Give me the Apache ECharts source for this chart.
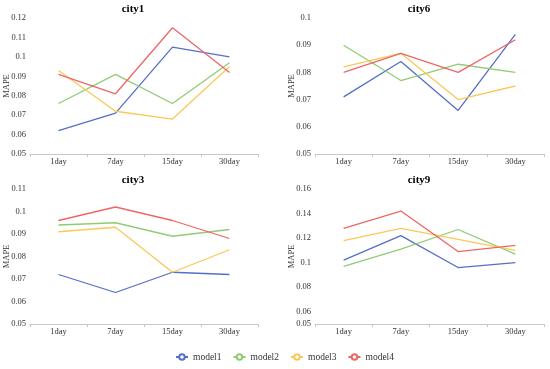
<!DOCTYPE html>
<html><head><meta charset="utf-8">
<script src="https://cdn.jsdelivr.net/npm/echarts@6/dist/echarts.min.js"></script>
<style>html,body{margin:0;padding:0;background:#fff}#c{width:550px;height:369px}</style>
</head><body><div id="c"></div>
<script>
const categories = ['1day', '7day', '15day', '30day'];
const models = ['model1', 'model2', 'model3', 'model4'];
const cityNames = ['city1', 'city6', 'city3', 'city9'];
// values per model (model1..model4)
const city1 = [
  [0.062, 0.071, 0.105, 0.100],
  [0.076, 0.091, 0.076, 0.097],
  [0.093, 0.072, 0.068, 0.095],
  [0.091, 0.081, 0.115, 0.092]
];
const city6 = [
  [0.071, 0.084, 0.066, 0.094],
  [0.090, 0.077, 0.083, 0.080],
  [0.082, 0.087, 0.070, 0.075],
  [0.080, 0.087, 0.080, 0.092]
];
const city3 = [
  [0.072, 0.064, 0.073, 0.072],
  [0.094, 0.095, 0.089, 0.092],
  [0.091, 0.093, 0.073, 0.083],
  [0.096, 0.102, 0.096, 0.088]
];
const city9 = [
  [0.102, 0.122, 0.096, 0.100],
  [0.097, 0.111, 0.127, 0.107],
  [0.118, 0.128, 0.119, 0.110],
  [0.128, 0.142, 0.109, 0.114]
];
const yMins = [0.05, 0.05, 0.05, 0.05];
const yMaxs = [0.12, 0.10, 0.11, 0.16];
const yIntervals = [0.01, 0.01, 0.01, 0.02];
const city9Ticks = [0.05, 0.06, 0.08, 0.10, 0.12, 0.14, 0.16];

const colors = ['#5470c6', '#91cc75', '#fac858', '#ee6666'];
const cityData = [city1, city6, city3, city9];
const font = 'Liberation Serif';
const grids = [
  {left: 30, width: 228, top: 18, height: 136},
  {left: 315, width: 229, top: 18, height: 136},
  {left: 30, width: 228, top: 189, height: 135},
  {left: 315, width: 229, top: 189, height: 135}
].map(g => Object.assign(g, {containLabel: false, outerBoundsMode: 'none'}));
const titlePos = [[128, -1], [414, -1], [128, 170], [414, 170]];

const xAxis = [], yAxis = [], series = [], title = [];
for (let i = 0; i < 4; i++) {
  title.push({text: cityNames[i], left: titlePos[i][0], top: titlePos[i][1], textAlign: 'center',
    textStyle: {fontFamily: font, fontWeight: 'bold', fontSize: 11, color: '#000'}});
  xAxis.push({type: 'category', gridIndex: i, data: categories, boundaryGap: true,
    axisLine: {lineStyle: {color: '#c8c8c8'}},
    axisTick: {show: true, length: 3, lineStyle: {color: '#c8c8c8'}},
    axisLabel: {fontFamily: font, fontSize: 8.5, color: '#333', margin: 3}});
  const ya = {type: 'value', gridIndex: i, min: yMins[i], max: yMaxs[i], interval: yIntervals[i],
    name: 'MAPE', nameLocation: 'middle', nameGap: 19, nameMoveOverlap: false,
    nameTextStyle: {fontFamily: font, fontSize: 8.5, color: '#333'},
    axisLine: {show: false}, axisTick: {show: false}, splitLine: {show: false},
    axisLabel: {fontFamily: font, fontSize: 8.5, color: '#333', margin: 4}};
  if (i === 3) { ya.axisLabel.customValues = city9Ticks; }
  yAxis.push(ya);
  for (let m = 0; m < 4; m++) {
    series.push({type: 'line', name: models[m], xAxisIndex: i, yAxisIndex: i,
      data: cityData[i][m], showSymbol: false, symbol: 'emptyCircle',
      lineStyle: {width: 1.3, color: colors[m]}, itemStyle: {color: colors[m]}});
  }
}
const chart = echarts.init(document.getElementById('c'), null, {renderer: 'canvas'});
chart.setOption({
  animation: false,
  color: colors,
  title: title,
  grid: grids,
  xAxis: xAxis,
  yAxis: yAxis,
  legend: {data: models, left: 170, top: 347, itemWidth: 12, itemHeight: 7, itemGap: 11,
    textStyle: {fontFamily: font, fontSize: 9.5, color: '#333'}},
  series: series
});
</script></body></html>
